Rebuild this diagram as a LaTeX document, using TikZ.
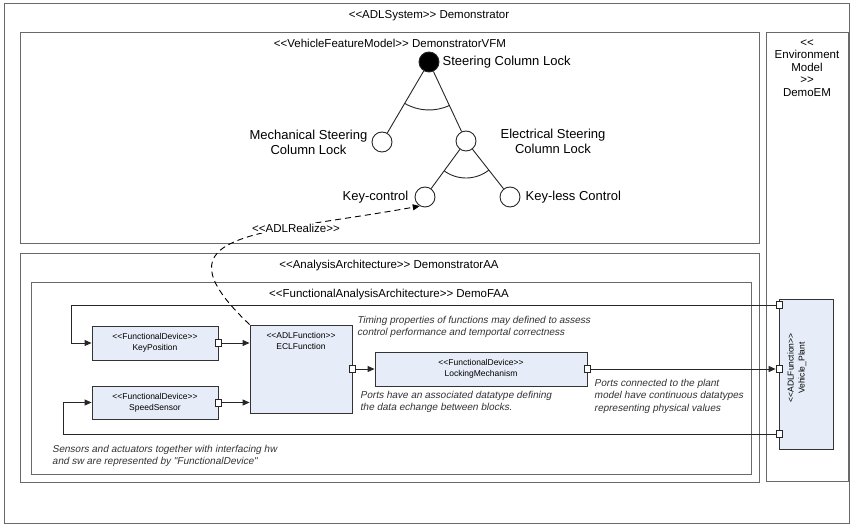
\documentclass[tikz,border=0pt]{standalone}
\usepackage{fontspec}
\setmainfont{Liberation Sans}
\newfontfamily\notefont{Liberation Sans}[FakeSlant=0.2]
\usetikzlibrary{arrows.meta,positioning}

\definecolor{blockblue}{RGB}{231,237,248}
\definecolor{framegray}{RGB}{105,105,105}
\newcommand{\stereo}[1]{<\kern0pt<#1>\kern0pt>}

\begin{document}
\begin{tikzpicture}[x=1pt, y=-1pt,
    frame/.style={draw=framegray, line width=1.3pt, anchor=north west, inner sep=0pt},
    title/.style={font=\fontsize{11.5}{13}\selectfont, anchor=base},
    block/.style={draw=black!80, fill=blockblue, line width=0.9pt, inner sep=0pt,
        align=center, font=\fontsize{8.5}{11}\selectfont},
    blocktext/.style={inner sep=0pt, align=center, font=\fontsize{8.5}{11}\selectfont},
    port/.style={draw=black!85, fill=white, line width=0.8pt, minimum width=6pt,
        minimum height=7pt, inner sep=0pt},
    feature/.style={circle, draw=black!85, fill=white, line width=0.9pt,
        minimum size=20pt, inner sep=0pt},
    flabel/.style={inner sep=0pt, align=center, font=\fontsize{13}{15}\selectfont},
    note/.style={inner sep=0pt, anchor=north west, align=left, text=black!80,
        font=\notefont\fontsize{10}{12.5}\selectfont},
    flow/.style={draw=black!85, line width=0.9pt, -{Triangle[length=7pt,width=6pt]}},
    realize/.style={draw=black, line width=0.9pt, dash pattern=on 6pt off 4pt,
        -{Triangle[length=7pt,width=6pt]}}
]

    \useasboundingbox (0,0) rectangle (851,526);

    % 1. The nested containers and their titles
    \node[frame, minimum width=845pt, minimum height=520pt] (system) at (4,3) {};
    \node[frame, minimum width=739pt, minimum height=211pt] (vfm) at (20,32) {};
    \node[frame, minimum width=82pt, minimum height=449pt] (em) at (766,32) {};
    \node[frame, minimum width=739pt, minimum height=229pt] (aa) at (20,253) {};
    \node[frame, minimum width=720pt, minimum height=192pt] (faa) at (31,282) {};

    \node[title] (systemtitle) at (429,19) {\stereo{ADLSystem} Demonstrator};
    \node[title] (vfmtitle) at (390,48) {\stereo{VehicleFeatureModel} DemonstratorVFM};
    \node[title] (aatitle) at (389,269) {\stereo{AnalysisArchitecture} DemonstratorAA};
    \node[title] (faatitle) at (389,298) {\stereo{FunctionalAnalysisArchitecture} DemoFAA};
    \foreach \txt [count=\i] in {<\kern0pt<, Environment, Model, >\kern0pt>, DemoEM} {
        \node[title] (emtitle\i) at (807,34+12.5*\i) {\txt};
    }

    % 2. Feature tree
    \node[feature, fill=black] (root) at (429,62) {};
    \node[feature] (mech) at (382,142) {};
    \node[feature] (elec) at (466,141) {};
    \node[feature] (keyctl) at (425,197) {};
    \node[feature] (keyless) at (510,197) {};

    \draw[line width=0.9pt, black!85] (root) -- (mech) (root) -- (elec)
        (elec) -- (keyctl) (elec) -- (keyless);
    % alternative groups
    \draw[line width=0.9pt, black!85] ([shift={(239.6:48pt)}]root.center)
        arc[start angle=239.6, end angle=295.1, radius=48pt];
    \draw[line width=0.9pt, black!85] ([shift={(233.8:37pt)}]elec.center)
        arc[start angle=233.8, end angle=308.2, radius=37pt];

    \node[flabel, right=3pt of root] (rootlabel) {Steering Column Lock};
    \node[flabel, left=4pt of mech] (mechlabel) {Mechanical Steering\\Column Lock};
    \node[flabel, right=24pt of elec] (eleclabel) {Electrical Steering\\Column Lock};
    \node[flabel, left=6pt of keyctl] (keyctllabel) {Key-control};
    \node[flabel, right=5pt of keyless] (keylesslabel) {Key-less Control};

    % 3. Functional blocks
    \node[block, minimum width=126pt, minimum height=34pt] (keypos) at (155,343)
        {\stereo{FunctionalDevice}\\KeyPosition};
    \node[block, minimum width=126pt, minimum height=33pt] (speed) at (155,402.5)
        {\stereo{FunctionalDevice}\\SpeedSensor};
    \node[block, minimum width=102pt, minimum height=88pt] (ecl) at (301,369) {};
    \node[blocktext, below=8pt of ecl.north] (ecltext) {\stereo{ADLFunction}\\ECLFunction};
    \node[block, minimum width=212pt, minimum height=34pt] (lock) at (481,369)
        {\stereo{FunctionalDevice}\\LockingMechanism};
    \node[block, minimum width=54pt, minimum height=150pt] (plant) at (806,374) {};
    \node[blocktext, rotate=90] (planttext) at (797,368) {\stereo{ADLFunction}\\Vehicle\_Plant};

    % ports
    \node[port] (keyposout) at (keypos.east) {};
    \node[port] (speedout) at (speed.east) {};
    \node[port] (eclout) at (ecl.east |- lock.east) {};
    \node[port] (lockout) at (lock.east) {};
    \foreach \name/\y in {plantin1/305, plantin2/369, plantin3/434} {
        \node[port] (\name) at (779,\y) {};
    }

    % 4. Data flows
    \draw[flow] (plantin1.west) -| ([xshift=-20pt]keypos.west) -- (keypos.west);
    \draw[flow] (keyposout.east) -- (keyposout.east -| ecl.west);
    \draw[flow] (speedout.east) -- (speedout.east -| ecl.west);
    \draw[flow] (eclout.east) -- (lock.west);
    \draw[flow] (lockout.east) -- (plantin2.west);
    \draw[flow] (plantin3.west) -| ([xshift=-28pt]speed.west) -- (speed.west);

    % 5. Realization link
    \draw[realize] (ecl.north west) .. controls (150,230) and (260,235) .. (keyctl.-120);
    \node[title, anchor=center, fill=white, inner sep=1pt] (realizelabel) at (296,228)
        {\stereo{ADLRealize}};

    % 6. Notes
    \node[note] (timingnote) at (357,316)
        {Timing properties of functions may defined to assess\\control performance and temportal correctness};
    \node[note] (datanote) at (360,391)
        {Ports have an associated datatype defining\\the data echange between blocks.};
    \node[note] (plantnote) at (594,379)
        {Ports connected to the plant\\model have continuous datatypes\\representing physical values};
    \node[note] (sensornote) at (52,445)
        {Sensors and actuators together with interfacing hw\\and sw are represented by "FunctionalDevice"};

\end{tikzpicture}
\end{document}
